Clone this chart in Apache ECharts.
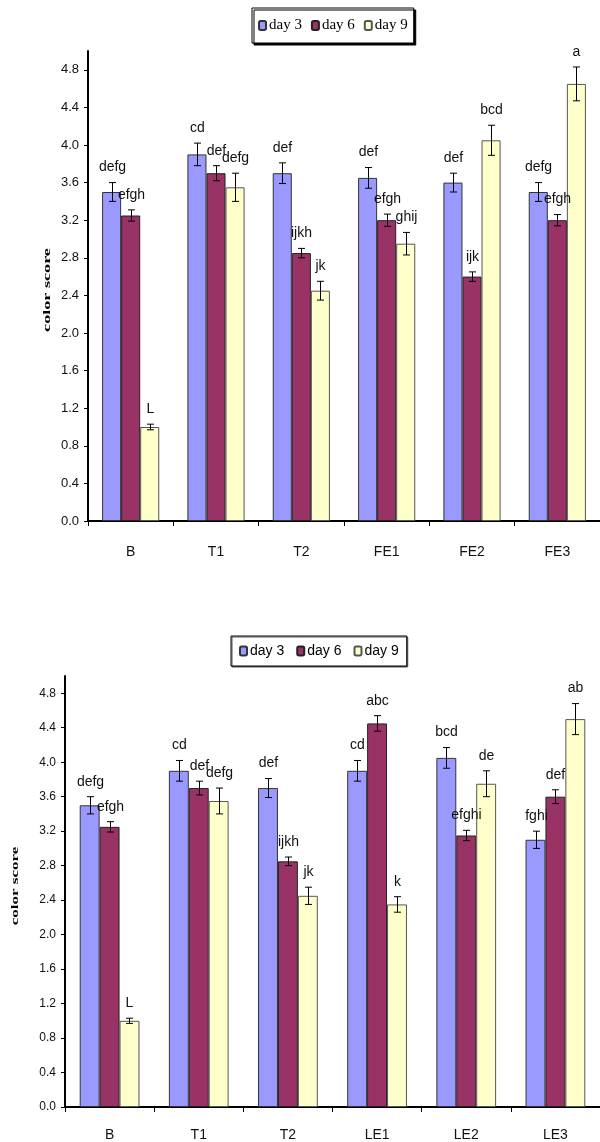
<!DOCTYPE html>
<html><head><meta charset="utf-8">
<script src="https://cdn.jsdelivr.net/npm/echarts@6/dist/echarts.min.js"></script>
<style>html,body{margin:0;padding:0;background:#fff}#c{width:600px;height:1142px}</style>
</head><body><div id="c"></div>
<script>
// ---------- data ----------
const seriesNames = ['day 3', 'day 6', 'day 9'];
const cats1 = ['B', 'T1', 'T2', 'FE1', 'FE2', 'FE3'];
const cats2 = ['B', 'T1', 'T2', 'LE1', 'LE2', 'LE3'];

const c1Day3 = [3.5, 3.9, 3.7, 3.65, 3.6, 3.5];
const c1Day6 = [3.25, 3.7, 2.85, 3.2, 2.6, 3.2];
const c1Day9 = [1.0, 3.55, 2.45, 2.95, 4.05, 4.65];
const c1Err3 = [0.1, 0.12, 0.11, 0.11, 0.1, 0.1];
const c1Err6 = [0.06, 0.08, 0.05, 0.065, 0.05, 0.06];
const c1Err9 = [0.03, 0.15, 0.1, 0.12, 0.16, 0.18];
const c1Let3 = ['defg', 'cd', 'def', 'def', 'def', 'defg'];
const c1Let6 = ['efgh', 'def', 'ijkh', 'efgh', 'ijk', 'efgh'];
const c1Let9 = ['L', 'defg', 'jk', 'ghij', 'bcd', 'a'];

const c2Day3 = [3.5, 3.9, 3.7, 3.9, 4.05, 3.1];
const c2Day6 = [3.25, 3.7, 2.85, 4.45, 3.15, 3.6];
const c2Day9 = [1.0, 3.55, 2.45, 2.35, 3.75, 4.5];
const c2Err3 = [0.1, 0.12, 0.11, 0.12, 0.12, 0.1];
const c2Err6 = [0.06, 0.08, 0.05, 0.09, 0.06, 0.08];
const c2Err9 = [0.03, 0.15, 0.1, 0.09, 0.15, 0.18];
const c2Let3 = ['defg', 'cd', 'def', 'cd', 'bcd', 'fghi'];
const c2Let6 = ['efgh', 'def', 'ijkh', 'abc', 'efghi', 'def'];
const c2Let9 = ['L', 'defg', 'jk', 'k', 'de', 'ab'];

const yMin = 0, yMax = 5, yStep = 0.4;
const yTitle = 'color score';

// ---------- styling ----------
const colors = ['#9999FF', '#993366', '#FFFFCC'];
const borders = ['#333333', '#222222', '#555555'];
const GAP = 0.33;
const SANS = '"Liberation Sans", Arial, sans-serif';

function barSeries(gi, vals, si) {
  return {
    type: 'bar', name: seriesNames[si], xAxisIndex: gi, yAxisIndex: gi,
    data: vals, barGap: '0%', barCategoryGap: '33%',
    itemStyle: { color: colors[si], borderColor: borders[si], borderWidth: 1 },
    emphasis: { disabled: true }, z: 2
  };
}
function errSeries(gi, vals, errs, lets, si, font) {
  return {
    type: 'custom', name: 'err' + gi + si, xAxisIndex: gi, yAxisIndex: gi,
    data: vals.map((v, i) => [i, v, errs[i]]), clip: false, z: 5,
    renderItem: function (params, api) {
      const ci = api.value(0), v = api.value(1), e = api.value(2);
      const band = api.size([1, 0])[0];
      const bw = band * (1 - GAP) / 3;
      const c = api.coord([ci, v]);
      const x = Math.round(c[0] - 1.5 * bw + bw * (si + 0.5)) + 0.5;
      const top = api.coord([ci, v + e])[1];
      const bot = api.coord([ci, v - e])[1];
      const cap = 3.5;
      const ls = { stroke: '#000', lineWidth: 1 };
      return { type: 'group', children: [
        { type: 'line', shape: { x1: x, y1: top, x2: x, y2: bot }, style: ls },
        { type: 'line', shape: { x1: x - cap, y1: top, x2: x + cap, y2: top }, style: ls },
        { type: 'line', shape: { x1: x - cap, y1: bot, x2: x + cap, y2: bot }, style: ls },
        { type: 'text', x: x, y: top - 8, style: { text: lets[params.dataIndex], fill: '#111',
          font: font, textAlign: 'center', textVerticalAlign: 'bottom' } }
      ]};
    }
  };
}

const grids = [
  { left: 88, top: 51, width: 518, height: 470 },
  { left: 65, top: 676, width: 538, height: 431 }
];

function xAxis(gi, cats, margin, fs) {
  return {
    type: 'category', gridIndex: gi, data: cats,
    axisLine: { lineStyle: { color: '#000', width: 2 } },
    axisTick: { show: true, length: 5, lineStyle: { color: '#000', width: 1 } },
    axisLabel: { color: '#111', fontFamily: SANS, fontSize: fs, margin: margin },
    splitLine: { show: false }
  };
}
function yAxis(gi, fs, margin) {
  return {
    type: 'value', gridIndex: gi, min: yMin, max: yMax, interval: yStep,
    axisLine: { show: true, lineStyle: { color: '#000', width: 2 } },
    axisTick: { show: true, length: 4, lineStyle: { color: '#000', width: 1 } },
    axisLabel: { color: '#111', fontFamily: SANS, fontSize: fs, margin: margin,
      showMaxLabel: false, formatter: v => (Math.abs(v - yMax) < 1e-9 ? '' : v.toFixed(1)) },
    splitLine: { show: false }
  };
}

const option = {
  animation: false,
  backgroundColor: '#fff',
  grid: grids,
  xAxis: [xAxis(0, cats1, 24, 14), xAxis(1, cats2, 21, 14)],
  yAxis: [yAxis(0, 13, 9), yAxis(1, 12, 9)],
  legend: [
    { data: seriesNames, left: 252, top: 8, orient: 'horizontal', itemWidth: 7, itemHeight: 9,
      itemGap: 9, padding: [10, 6, 10, 6], borderColor: '#000', borderWidth: 1,
      backgroundColor: '#fff', shadowColor: '#000', shadowOffsetX: 2, shadowOffsetY: 2, shadowBlur: 0,
      textStyle: { fontFamily: '"Liberation Serif", serif', fontSize: 15, color: '#000', padding: [0, 0, 0, -2] } },
    { data: seriesNames, left: 231, top: 636, orient: 'horizontal', itemWidth: 7, itemHeight: 9,
      itemGap: 12, padding: [8, 8, 8, 8], borderColor: '#000', borderWidth: 1,
      backgroundColor: '#fff', shadowColor: '#555', shadowOffsetX: 1, shadowOffsetY: 1, shadowBlur: 0,
      textStyle: { fontFamily: SANS, fontSize: 14, color: '#000', padding: [0, 0, 0, -2] } }
  ],
  graphic: [
    { type: 'text', x: 47, y: 290, rotation: Math.PI / 2, scaleX: 1.65,
      style: { text: yTitle, font: 'bold 11px "Liberation Serif"', fill: '#000',
        textAlign: 'center', textVerticalAlign: 'middle' } },
    { type: 'text', x: 15, y: 886, rotation: Math.PI / 2, scaleX: 1.55,
      style: { text: yTitle, font: 'bold 11px "Liberation Serif"', fill: '#000',
        textAlign: 'center', textVerticalAlign: 'middle' } }
  ],
  series: [
    barSeries(0, c1Day3, 0), barSeries(0, c1Day6, 1), barSeries(0, c1Day9, 2),
    errSeries(0, c1Day3, c1Err3, c1Let3, 0, '14px "Liberation Sans"'),
    errSeries(0, c1Day6, c1Err6, c1Let6, 1, '14px "Liberation Sans"'),
    errSeries(0, c1Day9, c1Err9, c1Let9, 2, '14px "Liberation Sans"'),
    barSeries(1, c2Day3, 0), barSeries(1, c2Day6, 1), barSeries(1, c2Day9, 2),
    errSeries(1, c2Day3, c2Err3, c2Let3, 0, '14px "Liberation Sans"'),
    errSeries(1, c2Day6, c2Err6, c2Let6, 1, '14px "Liberation Sans"'),
    errSeries(1, c2Day9, c2Err9, c2Let9, 2, '14px "Liberation Sans"')
  ]
};
const chart = echarts.init(document.getElementById('c'), null, { renderer: 'canvas' });
chart.setOption(option);
</script></body></html>
